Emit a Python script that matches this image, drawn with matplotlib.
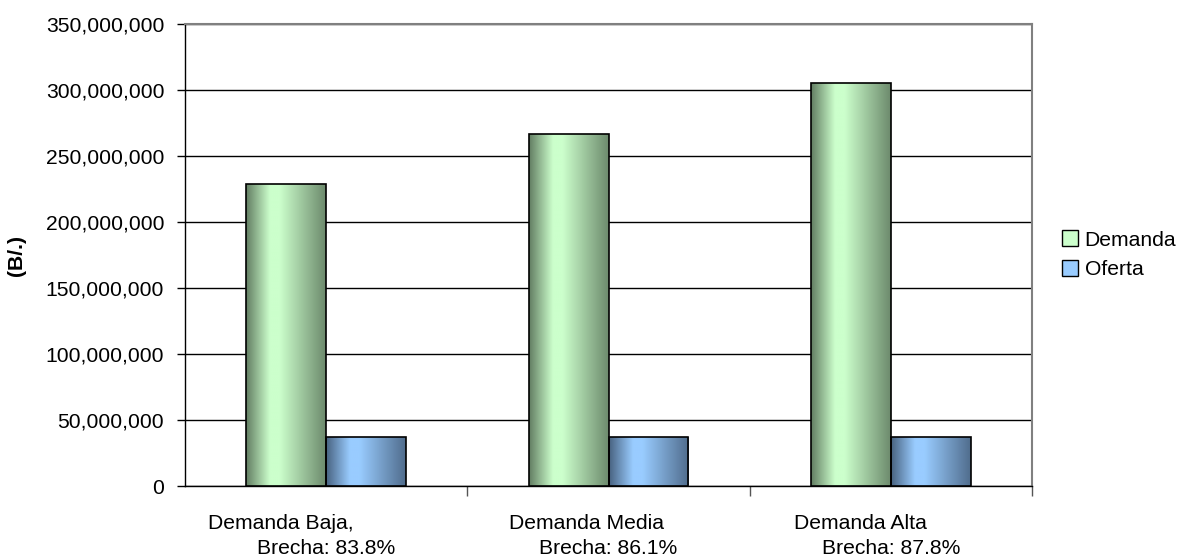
import numpy as np
import matplotlib.pyplot as plt
from matplotlib.patches import Patch
from matplotlib.ticker import FuncFormatter, FixedLocator

plt.rcParams['font.family'] = ['Liberation Sans', 'DejaVu Sans']

# data
escenarios = ['Demanda Baja,', 'Demanda Media', 'Demanda Alta']
brechas = ['Brecha: 83.8%', 'Brecha: 86.1%', 'Brecha: 87.8%']
demanda = [229e6, 267e6, 305e6]
oferta = [37e6, 37e6, 37e6]

fig = plt.figure(figsize=(11.83, 5.6), dpi=100)
ax = fig.add_axes([0.1564, 0.1321, 0.716, 0.825])

x = np.arange(len(escenarios))
w = 0.283
fs = 15.2


def gradient(light, dark):
    # horizontal shading: dark edges, light band left of centre
    t = np.linspace(0, 1, 200)
    k = np.interp(t, [0, 0.3, 0.42, 1], [0, 1, 1, 0.1])
    light = np.array(light) / 255
    dark = np.array(dark) / 255
    return (dark + (light - dark) * k[:, None])[None, :, :]


grad_dem = gradient((204, 255, 204), (98, 125, 98))
grad_ofe = gradient((153, 204, 255), (72, 98, 128))

bars_d = ax.bar(x - w / 2, demanda, w, facecolor='none', edgecolor='black', lw=1.2, zorder=4)
bars_o = ax.bar(x + w / 2, oferta, w, facecolor='none', edgecolor='black', lw=1.2, zorder=4)
for bars, g in [(bars_d, grad_dem), (bars_o, grad_ofe)]:
    for b in bars:
        x0, h = b.get_x(), b.get_height()
        im = ax.imshow(g, extent=[x0, x0 + b.get_width(), 0, h], aspect='auto', zorder=3)
        im.set_clip_path(b)

ax.set_xlim(-0.5, 2.5)
ax.set_ylim(0, 350e6)
ax.yaxis.set_major_locator(FixedLocator(np.arange(0, 350e6 + 1, 50e6)))
ax.yaxis.set_major_formatter(FuncFormatter(lambda v, p: f'{v:,.0f}'))
ax.grid(axis='y', color='black', lw=1, zorder=0)
ax.set_axisbelow(True)

ax.set_xticks([0.5, 1.5, 2.5], minor=False)
ax.set_xticklabels([])
ax.tick_params(axis='x', length=7, width=1, color='#555555')
ax.tick_params(axis='y', length=6, width=1, labelsize=fs, pad=9)

for side in ['top', 'right']:
    ax.spines[side].set_color('#808080')
    ax.spines[side].set_linewidth(1.5)
for side in ['left', 'bottom']:
    ax.spines[side].set_color('black')
    ax.spines[side].set_linewidth(1)

offs = [-85, -72, -70]
for i in range(len(escenarios)):
    ax.annotate(escenarios[i], xy=(x[i], 0), xycoords=('data', 'axes fraction'),
                xytext=(offs[i], -27), textcoords='offset points',
                ha='left', va='center', fontsize=fs)
    ax.annotate(brechas[i], xy=(x[i], 0), xycoords=('data', 'axes fraction'),
                xytext=(0, -45), textcoords='offset points',
                ha='center', va='center', fontsize=fs)

ax.set_ylabel('(B/.)', fontsize=fs, fontweight='bold', labelpad=14)

handles = [Patch(facecolor='#CCFFCC', edgecolor='black', lw=1),
           Patch(facecolor='#99CCFF', edgecolor='black', lw=1)]
fig.legend(handles, ['Demanda', 'Oferta'], loc='center left',
           bbox_to_anchor=(0.882, 0.545), frameon=False, fontsize=fs,
           handlelength=0.75, handleheight=0.75, handletextpad=0.3, labelspacing=0.5)

fig.savefig('out.png', dpi=100)
